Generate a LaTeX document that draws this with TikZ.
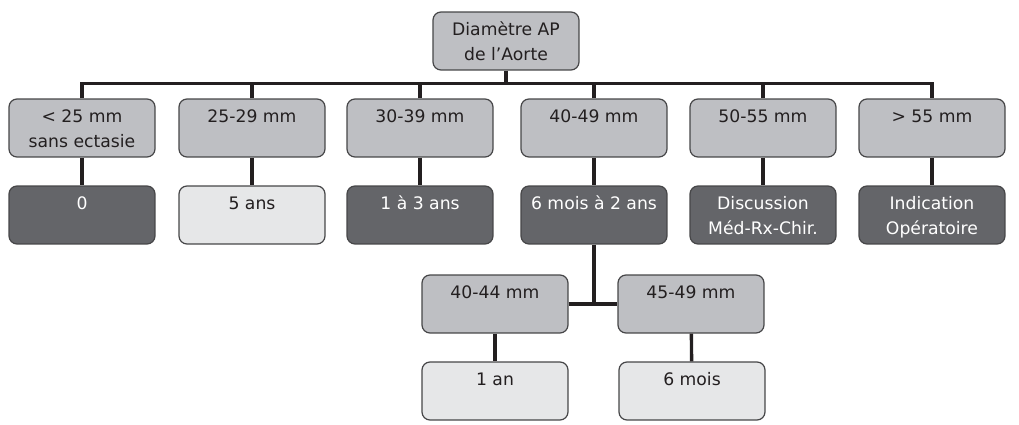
\documentclass[tikz,border=0pt]{standalone}
\usepackage{fontspec}
\setmainfont{DejaVu Sans}

\definecolor{midGray}{RGB}{190,191,195}
\definecolor{darkGray}{RGB}{100,101,105}
\definecolor{lightGray}{RGB}{230,231,232}
\definecolor{edgeGray}{RGB}{70,70,72}
\definecolor{lineBlack}{RGB}{35,31,32}

\tikzstyle{box}=[rectangle,rounded corners=1.6mm,draw=edgeGray,line width=0.7pt,inner sep=0mm,text=lineBlack,
	execute at begin node={\begin{minipage}[c][1.16cm][t]{2.92cm}\fontsize{9.8}{14}\selectfont\centering\vspace*{1.3mm}\strut},
	execute at end node={\end{minipage}}]
\tikzstyle{mid}=[fill=midGray]
\tikzstyle{dark}=[fill=darkGray, text=white]
\tikzstyle{light}=[fill=lightGray]
\tikzstyle{busLine}=[lineBlack, line width=2.1pt]
\tikzstyle{stemLine}=[lineBlack, line width=1.9pt]

\begin{document}
\begin{tikzpicture}[x=0.02cm, y=-0.02cm]
	\useasboundingbox (0,0) rectangle (1019,425);

	% Wurzel
	\node(top) at (506,41) [box, mid] {Diamètre AP\\de l'Aorte};

	% Obere Reihe: Durchmesser
	\node(r1) at (82,128) [box, mid] {< 25 mm\\sans ectasie};
	\node(r2) at (252,128) [box, mid] {25-29 mm};
	\node(r3) at (420,128) [box, mid] {30-39 mm};
	\node(r4) at (594,128) [box, mid] {40-49 mm};
	\node(r5) at (763,128) [box, mid] {50-55 mm};
	\node(r6) at (932,128) [box, mid] {> 55 mm};

	% Untere Reihe: Intervalle
	\node(s1) at (82,215) [box, dark] {0};
	\node(s2) at (252,215) [box, light] {5 ans};
	\node(s3) at (420,215) [box, dark] {1 à 3 ans};
	\node(s4) at (594,215) [box, dark] {6 mois à 2 ans};
	\node(s5) at (763,215) [box, dark] {Discussion\\Méd-Rx-Chir.};
	\node(s6) at (932,215) [box, dark] {Indication\\Opératoire};

	% Unterteilung 40-49 mm
	\node(a1) at (495,304) [box, mid] {40-44 mm};
	\node(a2) at (691,304) [box, mid] {45-49 mm};
	\node(b1) at (495,391) [box, light] {1 an};
	\node(b2) at (692,391) [box, light] {6 mois};

	\draw[busLine] (top.south) -- ++(0,13) coordinate (bus);
	\draw[busLine] (r1.north) |- (bus) -| (r6.north);
	\foreach \i in {2,3,4,5}
		\draw[busLine] (r\i.north) -- (r\i.north |- bus);

	\foreach \i in {1,2,...,6}
		\draw[stemLine] (r\i) -- (s\i);

	\coordinate (split) at (s4.south |- a1.east);
	\draw[busLine] (s4) -- (split);
	\draw[busLine] (a1) -- (a2);
	\draw[stemLine] (a1) -- (b1);
	\draw[stemLine] (a2) -- (b2);

\end{tikzpicture}
\end{document}
